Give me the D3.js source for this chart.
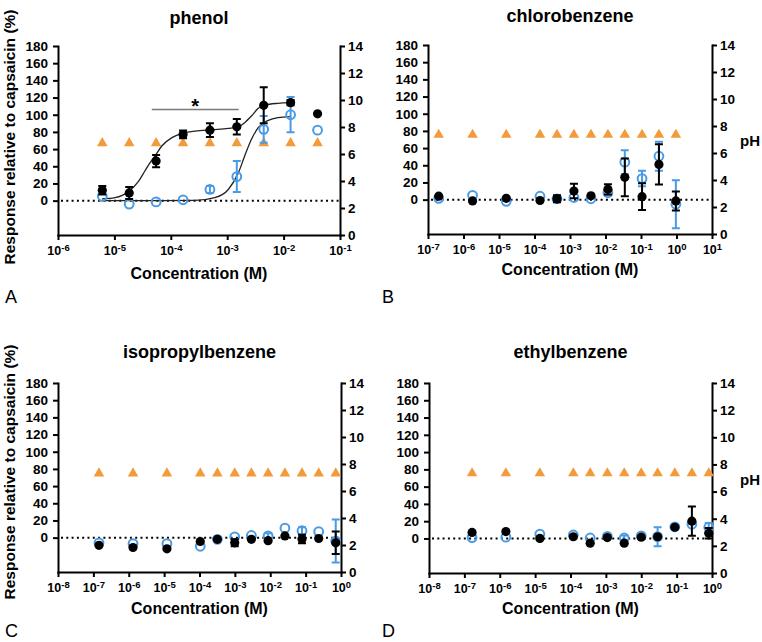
<!DOCTYPE html>
<html>
<head>
<meta charset="utf-8">
<script src="https://cdn.jsdelivr.net/npm/d3@7"></script>
<style>
body { margin: 0; background: #fff; }
svg { font-family: 'Liberation Sans', Arial, Helvetica, sans-serif; }
</style>
</head>
<body>
<svg id="fig" width="762" height="642"></svg>
<script>
// ---- data (response in %, pH on right axis) ----
// A: phenol
const phenol_conc = [6.1e-6, 1.83e-5, 5.49e-5, 1.65e-4, 4.94e-4, 1.48e-3, 4.44e-3, 1.33e-2, 4.0e-2];
const phenol_black = [12, 9, 46, 77, 82, 86, 111, 114, 101];
const phenol_black_err = [5, 7, 7, 4.5, 8, 9, 21, 3, 0];
const phenol_blue = [5, -4, -1.5, 1, 13, 28, 83, 100, 82];
const phenol_blue_err = [0, 0, 0, 0, 4, 18, 15.5, 20.5, 0];
const phenol_ph = [6.8, 6.8, 6.8, 6.8, 6.8, 6.8, 6.8, 6.8, 6.8];
// fitted curves (log10 M, %)
const phenol_fit_black_logx = [-5.22, -4.99, -4.75, -4.57, -4.46, -4.37, -4.28, -4.16, -3.98, -3.81, -3.57, -3.27, -2.98, -2.80, -2.69, -2.57, -2.45, -2.33, -2.10, -1.88];
const phenol_fit_black_y = [2, 3.5, 10.5, 22.8, 34.5, 44, 52, 63.6, 73.3, 78, 81, 82.6, 84, 86, 90.8, 98.5, 107.4, 111.3, 113.3, 114];
const phenol_fit_blue_logx = [-5.22, -4.2, -3.57, -3.22, -2.98, -2.80, -2.69, -2.57, -2.45, -2.27, -2.10, -1.88];
const phenol_fit_blue_y = [0, 0, 0.3, 3.5, 13, 32.6, 52, 71.4, 85, 93.5, 96.6, 97.8];
const phenol_sig = [4.6e-5, 1.6e-3, 106];   // x from, x to, level

// B: chlorobenzene
const chloro_conc = [2e-7, 1.8e-6, 1.6e-5, 1.43e-4, 4.3e-4, 1.29e-3, 3.9e-3, 1.17e-2, 3.5e-2, 0.107, 0.32, 0.96];
const chloro_black = [4, -1.5, 1.5, -1, 1, 10, 4.5, 12, 26, 3.5, 41, -1.5];
const chloro_black_err = [0, 0, 0, 0, 4, 8.5, 0, 6, 22, 15.5, 23.5, 11];
const chloro_blue = [1.5, 5, -2, 4, 1, 2.5, 1, 8, 43.6, 24.5, 50.5, -5.4];
const chloro_blue_err = [0, 0, 0, 0, 3, 0, 0, 3, 14, 9, 17, 28];
const chloro_ph = [7.35, 7.35, 7.35, 7.35, 7.35, 7.35, 7.35, 7.35, 7.35, 7.35, 7.35, 7.35];

// C: isopropylbenzene
const iso_conc = [1.44e-7, 1.32e-6, 1.2e-5, 1.05e-4, 3.2e-4, 9.9e-4, 2.93e-3, 8.7e-3, 2.6e-2, 7.9e-2, 0.234, 0.71];
const iso_black = [-9, -11.5, -13, -4.5, -2, -6, -2, -3.5, 2, -1.5, -1, -6];
const iso_black_err = [0, 0, 0, 0, 0, 4, 0, 0, 0, 5, 0, 13];
const iso_blue = [-6, -7, -7, -10, -2, 1, 2.5, 2, 11, 8, 7, -4];
const iso_blue_err = [0, 0, 0, 0, 0, 0, 0, 3, 0, 4, 0, 25];
const iso_ph = [7.3, 7.3, 7.3, 7.3, 7.3, 7.3, 7.3, 7.3, 7.3, 7.3, 7.3, 7.3];

// D: ethylbenzene
const ethyl_conc = [1.65e-7, 1.49e-6, 1.36e-5, 1.2e-4, 3.6e-4, 1.1e-3, 3.3e-3, 1e-2, 2.9e-2, 8.9e-2, 0.27, 0.81];
const ethyl_black = [7, 8, 0, 2, -5.5, 1, -5.5, 1.5, 2, 13, 20, 6];
const ethyl_black_err = [0, 0, 0, 0, 0, 0, 0, 0, 0, 0, 17, 6];
const ethyl_blue = [1, 1.5, 5, 4, 0.5, 2.5, 0.5, 3, 2, 13.5, 16.5, 13];
const ethyl_blue_err = [0, 0, 0, 0, 0, 0, 3, 0, 11, 0, 0, 5];
const ethyl_ph = [7.35, 7.35, 7.35, 7.35, 7.35, 7.35, 7.35, 7.35, 7.35, 7.35, 7.35, 7.35];

const y_ticks = [0, 20, 40, 60, 80, 100, 120, 140, 160, 180];
const ph_ticks = [0, 2, 4, 6, 8, 10, 12, 14];

const BLUE = '#4a9be6';
const ORANGE = '#f39a3a';

class DoseChart {

    constructor( config, data ) {
        this.config = {
            parent: config.parent,
            box: config.box,
            xdomain: config.xdomain,
            title: config.title,
            title_y: config.title_y,
            xlabel_y: config.xlabel_y,
            letter: config.letter,
            letter_pos: config.letter_pos,
            ylabel: config.ylabel || null,
            phlabel: config.phlabel || null
        }
        this.data = data;
        this.init();
    }

    init() {
        let self = this;
        const b = self.config.box;

        self.svg = d3.select( self.config.parent );
        self.chart = self.svg.append('g');

        self.xscale = d3.scaleLog()
            .domain( self.config.xdomain )
            .range( [b.left, b.right] );

        self.yscale = d3.scaleLinear()
            .domain( [-40, 180] )
            .range( [b.bottom, b.top] );

        self.phscale = d3.scaleLinear()
            .domain( [0, 14] )
            .range( [b.bottom, b.top] );

        const e0 = Math.round(Math.log10(self.config.xdomain[0]));
        const e1 = Math.round(Math.log10(self.config.xdomain[1]));
        self.xticks = d3.range(e0, e1 + 1).map(e => Math.pow(10, e));

        self.xaxis = d3.axisBottom( self.xscale )
            .tickValues( self.xticks )
            .tickSize(5)
            .tickSizeOuter(0)
            .tickPadding(6)
            .tickFormat(() => '');

        self.yaxis = d3.axisLeft( self.yscale )
            .tickValues( y_ticks )
            .tickSize(5)
            .tickSizeOuter(0)
            .tickPadding(5);

        self.phaxis = d3.axisRight( self.phscale )
            .tickValues( ph_ticks )
            .tickSize(5)
            .tickSizeOuter(0)
            .tickPadding(3);

        self.xaxis_group = self.chart.append('g')
            .attr('transform', `translate(0, ${b.bottom})`);
        self.yaxis_group = self.chart.append('g')
            .attr('transform', `translate(${b.left}, 0)`);
        self.phaxis_group = self.chart.append('g')
            .attr('transform', `translate(${b.right}, 0)`);

        const cx = (b.left + b.right) / 2;

        self.svg.append('text')
            .attr('x', cx)
            .attr('y', self.config.title_y)
            .attr('text-anchor', 'middle')
            .style('font-size', '18px')
            .style('font-weight', 'bold')
            .text( self.config.title );

        self.svg.append('text')
            .attr('x', cx)
            .attr('y', self.config.xlabel_y)
            .attr('text-anchor', 'middle')
            .style('font-size', '16px')
            .style('font-weight', 'bold')
            .text('Concentration (M)');

        self.svg.append('text')
            .attr('x', self.config.letter_pos[0])
            .attr('y', self.config.letter_pos[1])
            .style('font-size', '18px')
            .text( self.config.letter );

        if (self.config.ylabel) {
            self.svg.append('text')
                .attr('transform', `translate(${self.config.ylabel[0]}, ${self.config.ylabel[1]}) rotate(-90)`)
                .attr('text-anchor', 'middle')
                .style('font-size', '15.5px')
                .style('font-weight', 'bold')
                .text('Response relative to capsaicin (%)');
        }

        if (self.config.phlabel) {
            self.svg.append('text')
                .attr('x', self.config.phlabel[0])
                .attr('y', self.config.phlabel[1])
                .style('font-size', '15px')
                .style('font-weight', 'bold')
                .text('pH');
        }
    }

    update() {
        let self = this;
        const d = self.data;

        self.points = d.conc.map((c, i) => ({
            x: c,
            black: d.black[i], black_err: d.black_err[i],
            blue: d.blue[i], blue_err: d.blue_err[i],
            ph: d.ph[i]
        }));

        self.line = d3.line()
            .x(p => self.xscale(Math.pow(10, p[0])))
            .y(p => self.yscale(p[1]))
            .curve(d3.curveMonotoneX);

        self.render();
    }

    errorbars( rows, value, err, color ) {
        let self = this;
        const cap = 4;
        const g = self.chart.append('g')
            .attr('stroke', color)
            .attr('stroke-width', 2)
            .attr('fill', 'none');
        rows.filter(r => r[err] > 0).forEach(r => {
            const x = self.xscale(r.x);
            const y0 = self.yscale(r[value] - r[err]);
            const y1 = self.yscale(r[value] + r[err]);
            g.append('path')
                .attr('d', `M${x},${y0}V${y1}M${x - cap},${y0}H${x + cap}M${x - cap},${y1}H${x + cap}`);
        });
    }

    render() {
        let self = this;
        const b = self.config.box;
        const d = self.data;

        // dotted zero line
        self.chart.append('line')
            .attr('x1', b.left + 3)
            .attr('x2', b.right)
            .attr('y1', self.yscale(0))
            .attr('y2', self.yscale(0))
            .attr('stroke', '#000')
            .attr('stroke-width', 2)
            .attr('stroke-dasharray', '2,3.3');

        // pH triangles
        self.chart.selectAll('.ph')
            .data(self.points)
            .join('path')
            .attr('class', 'ph')
            .attr('d', d3.symbol(d3.symbolTriangle, 48))
            .attr('transform', p => `translate(${self.xscale(p.x)}, ${self.phscale(p.ph)})`)
            .attr('fill', ORANGE);

        // fitted curves
        if (d.fit_black) {
            self.chart.append('path')
                .attr('d', self.line(d.fit_black))
                .attr('stroke', '#222')
                .attr('stroke-width', 1.3)
                .attr('fill', 'none');
        }
        if (d.fit_blue) {
            self.chart.append('path')
                .attr('d', self.line(d.fit_blue))
                .attr('stroke', '#222')
                .attr('stroke-width', 1.3)
                .attr('fill', 'none');
        }

        // significance bar
        if (d.sig) {
            const sy = self.yscale(d.sig[2]);
            self.chart.append('line')
                .attr('x1', self.xscale(d.sig[0]))
                .attr('x2', self.xscale(d.sig[1]))
                .attr('y1', sy)
                .attr('y2', sy)
                .attr('stroke', '#7a7a7a')
                .attr('stroke-width', 1.6);
            self.chart.append('text')
                .attr('x', (self.xscale(d.sig[0]) + self.xscale(d.sig[1])) / 2)
                .attr('y', sy + 3)
                .attr('text-anchor', 'middle')
                .style('font-size', '20px')
                .style('font-weight', 'bold')
                .text('*');
        }

        // blue open circles
        self.errorbars(self.points, 'blue', 'blue_err', BLUE);
        self.chart.selectAll('.blue')
            .data(self.points)
            .join('circle')
            .attr('class', 'blue')
            .attr('cx', p => self.xscale(p.x))
            .attr('cy', p => self.yscale(p.blue))
            .attr('r', 4.4)
            .attr('fill', 'none')
            .attr('stroke', BLUE)
            .attr('stroke-width', 2);

        // black filled circles
        self.errorbars(self.points, 'black', 'black_err', '#000');
        self.chart.selectAll('.black')
            .data(self.points)
            .join('circle')
            .attr('class', 'black')
            .attr('cx', p => self.xscale(p.x))
            .attr('cy', p => self.yscale(p.black))
            .attr('r', 4.6)
            .attr('fill', '#000');

        self.xaxis_group.call( self.xaxis );
        self.yaxis_group.call( self.yaxis );
        self.phaxis_group.call( self.phaxis );

        [self.xaxis_group, self.yaxis_group, self.phaxis_group].forEach(g => {
            g.select('.domain').attr('stroke-width', 2).attr('stroke-linecap', 'square');
            g.selectAll('.tick line').attr('stroke-width', 2);
            g.selectAll('.tick text')
                .attr('fill', '#000')
                .style('font-family', "'Liberation Sans', Arial, sans-serif")
                .style('font-size', '13.5px')
                .style('font-weight', 'bold');
        });

        // 10^n tick labels
        self.xaxis_group.selectAll('.tick text')
            .style('font-size', '12.5px')
            .each(function(v) {
                const t = d3.select(this);
                t.text(null);
                t.append('tspan').text('10');
                t.append('tspan')
                    .attr('dy', '-0.42em')
                    .style('font-size', '9.5px')
                    .text(Math.round(Math.log10(v)));
            });
    }
}

const zip = (a, b) => a.map((v, i) => [v, b[i]]);

let chartA = new DoseChart({
    parent: '#fig',
    box: {left: 58, right: 340, top: 46, bottom: 235},
    xdomain: [1e-6, 1e-1],
    title: 'phenol', title_y: 24,
    xlabel_y: 279,
    letter: 'A', letter_pos: [5, 303],
    ylabel: [15, 137]
}, {
    conc: phenol_conc, black: phenol_black, black_err: phenol_black_err,
    blue: phenol_blue, blue_err: phenol_blue_err, ph: phenol_ph,
    fit_black: zip(phenol_fit_black_logx, phenol_fit_black_y),
    fit_blue: zip(phenol_fit_blue_logx, phenol_fit_blue_y),
    sig: phenol_sig
});
chartA.update();

let chartB = new DoseChart({
    parent: '#fig',
    box: {left: 428, right: 712, top: 45, bottom: 234},
    xdomain: [1e-7, 1e1],
    title: 'chlorobenzene', title_y: 22,
    xlabel_y: 275,
    letter: 'B', letter_pos: [382, 303],
    phlabel: [740, 146]
}, {
    conc: chloro_conc, black: chloro_black, black_err: chloro_black_err,
    blue: chloro_blue, blue_err: chloro_blue_err, ph: chloro_ph
});
chartB.update();

let chartC = new DoseChart({
    parent: '#fig',
    box: {left: 58, right: 341, top: 383, bottom: 572},
    xdomain: [1e-8, 1e0],
    title: 'isopropylbenzene', title_y: 358,
    xlabel_y: 614,
    letter: 'C', letter_pos: [5, 637],
    ylabel: [15, 472]
}, {
    conc: iso_conc, black: iso_black, black_err: iso_black_err,
    blue: iso_blue, blue_err: iso_blue_err, ph: iso_ph
});
chartC.update();

let chartD = new DoseChart({
    parent: '#fig',
    box: {left: 429, right: 712, top: 383, bottom: 573},
    xdomain: [1e-8, 1e0],
    title: 'ethylbenzene', title_y: 358,
    xlabel_y: 614,
    letter: 'D', letter_pos: [382, 637],
    phlabel: [740, 485]
}, {
    conc: ethyl_conc, black: ethyl_black, black_err: ethyl_black_err,
    blue: ethyl_blue, blue_err: ethyl_blue_err, ph: ethyl_ph
});
chartD.update();
</script>
</body>
</html>
